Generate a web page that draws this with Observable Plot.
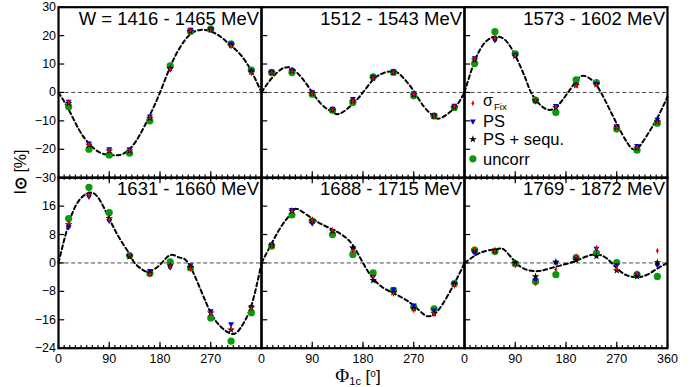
<!DOCTYPE html>
<html>
<head>
<meta charset="utf-8">
<script src="https://cdn.jsdelivr.net/npm/d3@7"></script>
<script src="https://cdn.jsdelivr.net/npm/@observablehq/plot@0.6"></script>
<style>
  html, body { margin: 0; padding: 0; background: white; }
  #chart { position: relative; width: 700px; height: 387px; font-family: "Liberation Sans", Arial, sans-serif; overflow: hidden; }
  #chart svg { position: absolute; left: 0; overflow: visible; background: transparent; }
  .ylab { position: absolute; left: 20px; top: 172px; transform: translate(-50%, -50%) rotate(-90deg); font-size: 16px; white-space: nowrap; color: black; }
  .xlab { position: absolute; left: 358px; top: 366px; transform: translateX(-50%); font-size: 17px; white-space: nowrap; line-height: 1; color: black; }
  .xlab .phi { font-family: "Liberation Serif", "DejaVu Serif", serif; font-size: 19px; }
  .xlab sub { font-size: 11px; vertical-align: -3px; line-height: 0; }
  .xlab sup { font-size: 10px; vertical-align: 5px; line-height: 0; }
</style>
</head>
<body>
<div id="chart"></div>
<script>
// ---------- data ----------
const phi = [18, 54, 90, 126, 162, 198, 234, 270, 306, 342];
const bins = ["W = 1416 - 1465 MeV", "1512 - 1543 MeV", "1573 - 1602 MeV",
              "1631 - 1660 MeV", "1688 - 1715 MeV", "1769 - 1872 MeV"];

// sigma_Fix (red)
const sigmaFix = [
  [-3.5, -18.2, -20.3, -20.3, -8.8, 8.2, 21.8, 22.0, 16.2, 6.7],
  [7.0, 7.5, -0.3, -6.0, -2.9, 5.0, 7.1, -0.6, -8.2, -5.0],
  [11.8, 19.1, 13.0, -2.7, -5.1, 2.4, 2.6, -12.3, -19.4, -10.6],
  [11.1, 19.1, 12.2, 2.2, -3.2, -1.1, -1.6, -14.3, -18.5, -12.9],
  [5.0, 14.7, 12.0, 9.2, 3.3, -3.8, -8.7, -13.4, -14.5, -6.5],
  [3.9, 3.3, -0.7, -5.8, -1.8, 1.9, 4.3, -1.6, -2.8, 3.4]
];
// PS (blue)
const ps = [
  [-3.3, -18.0, -20.0, -20.0, -8.5, 8.0, 22.0, 22.2, 17.0, 7.6],
  [7.3, 7.8, 0.0, -5.8, -2.3, 5.3, 7.4, -0.3, -8.0, -4.7],
  [12.0, 18.3, 13.2, -3.2, -4.8, 2.7, 2.9, -11.9, -18.9, -9.6],
  [10.0, 18.6, 11.8, 2.0, -2.3, -1.3, -0.7, -13.6, -17.3, -12.4],
  [5.2, 14.9, 11.1, 9.0, 4.0, -4.0, -7.5, -12.0, -13.4, -5.8],
  [2.8, 3.3, -0.2, -4.9, 0.0, 1.2, 4.0, -0.7, -3.3, -0.7]
];
// PS + sequ. (black)
const psSequ = [
  [-3.8, -18.5, -20.5, -20.5, -9.0, 8.5, 21.5, 22.0, 16.6, 7.2],
  [7.0, 7.6, -0.3, -6.2, -3.0, 5.0, 7.0, -0.8, -8.3, -5.2],
  [11.5, 19.0, 12.8, -2.8, -5.3, 2.5, 2.8, -12.2, -19.5, -10.3],
  [10.8, 19.3, 12.5, 1.8, -2.8, -0.8, -1.2, -14.0, -18.8, -12.6],
  [5.0, 14.6, 12.0, 9.0, 4.3, -4.9, -8.3, -12.8, -14.2, -6.0],
  [3.5, 3.5, 0.0, -3.8, 0.3, 0.8, 1.9, -2.1, -3.8, 0.1]
];
// uncorr (green)
const uncorr = [
  [-5.0, -20.0, -22.0, -21.4, -10.0, 9.4, 21.5, 22.4, 17.1, 7.9],
  [7.0, 7.0, -0.6, -6.3, -3.5, 5.5, 7.1, -1.2, -8.3, -5.3],
  [10.2, 21.4, 13.6, -2.7, -7.1, 4.4, 3.5, -12.9, -20.3, -10.8],
  [12.5, 21.3, 14.2, 2.1, -3.0, 0.3, -1.4, -15.5, -22.0, -14.0],
  [4.7, 13.5, 11.8, 8.0, 2.4, -2.8, -7.7, -12.4, -12.9, -5.8],
  [3.6, 3.2, -0.2, -5.2, -3.3, 1.5, 2.8, 0.1, -3.3, -3.8]
];

// fit curves
const curvePhi = [
  [0, 18, 36, 54, 72, 90, 108, 126, 144, 162, 180, 198, 216, 234, 252, 270, 288, 306, 324, 342, 360],
  [0, 18, 36, 45, 54, 72, 90, 108, 126, 140, 162, 180, 198, 216, 236, 252, 270, 288, 306, 318, 342, 360],
  [0, 18, 36, 54, 72, 90, 108, 118, 135, 157, 180, 198, 210, 225, 242, 270, 288, 304, 324, 342, 360],
  [0, 18, 36, 56, 72, 90, 108, 126, 135, 150, 162, 180, 198, 215, 230, 252, 270, 288, 309, 324, 342, 360],
  [0, 18, 36, 54, 65, 90, 108, 126, 144, 162, 180, 198, 216, 234, 252, 270, 288, 298, 315, 342, 360],
  [0, 18, 36, 60, 72, 90, 108, 130, 150, 180, 198, 216, 234, 252, 270, 288, 307, 324, 342, 360]
];
const curveVal = [
  [0, -6, -13, -18, -21, -22, -22, -20, -15, -8, 0, 9, 16, 20.5, 22, 21.5, 19.5, 16.5, 13, 7.5, 0],
  [0, 5, 8.3, 8.8, 8.5, 5, 0, -4.5, -7, -7.4, -4, 0, 4.5, 6.8, 7.4, 5, 0.5, -5, -8.5, -9, -5.5, 0],
  [0, 11, 17.5, 19.6, 18.5, 13, 5, 0, -4.5, -5.9, -1, 4, 5.9, 4.5, 0, -11, -17.5, -20, -15, -9, -1.5],
  [0, 11, 17.5, 19.8, 18, 12.5, 7, 2.5, 0, -2, -2.3, -0.5, 2.2, 1.5, 0, -7.5, -14, -18, -20, -18, -12, 0],
  [0, 5.5, 10.5, 14.3, 15.1, 12.5, 10.8, 9.4, 7.8, 5, 0, -4.4, -7, -8.5, -10, -12, -14.5, -15, -13, -5.8, 0],
  [0, 2, 3.3, 4, 3.5, 0.3, -1.8, -2.3, -1.6, -0.3, 0.6, 1.8, 2.4, 1.3, -1.5, -3.5, -4, -3.3, -1.6, 0]
];

const seriesNames = ["σFix", "PS", "PS + sequ.", "uncorr"];
const xMajor = [0, 90, 180, 270, 360];
const xMinor = d3.range(0, 361, 10);
const xTickLabels = [0, 90, 180, 270];
const yTicksTop = [-30, -20, -10, 0, 10, 20, 30];
const yTicksBottom = [-24, -16, -8, 0, 8, 16];

(function () {
// ---------- styles ----------
const FONT = "Liberation Sans, Arial, Helvetica, sans-serif";
const RED = "#ee0000", BLUE = "#0000ee", GREEN = "#0a990a";
const triDown = {
  draw(ctx, size) {
    const r = Math.sqrt(size / Math.PI);
    ctx.moveTo(-r * 1.15, -r * 0.8);
    ctx.lineTo(r * 1.15, -r * 0.8);
    ctx.lineTo(0, r * 1.2);
    ctx.closePath();
  }
};
const diamondTall = {
  draw(ctx, size) {
    const r = Math.sqrt(size / Math.PI);
    ctx.moveTo(0, -r * 1.9);
    ctx.lineTo(r * 0.85, 0);
    ctx.lineTo(0, r * 1.9);
    ctx.lineTo(-r * 0.85, 0);
    ctx.closePath();
  }
};

const L = 57.3, R = 666.7;

function rowPlot(row, opts) {
  const panelIdx = [0, 1, 2].map(k => row * 3 + k);
  const rowBins = panelIdx.map(p => bins[p]);
  const pts = [];
  const curve = [];
  for (const p of panelIdx) {
    phi.forEach((x, i) => {
      pts.push({bin: bins[p], phi: x, s: "uncorr", v: uncorr[p][i]});
      pts.push({bin: bins[p], phi: x, s: "PS", v: ps[p][i]});
      pts.push({bin: bins[p], phi: x, s: "PS + sequ.", v: psSequ[p][i]});
      pts.push({bin: bins[p], phi: x, s: "σFix", v: sigmaFix[p][i]});
    });
    curvePhi[p].forEach((x, i) => curve.push({bin: bins[p], phi: x, v: curveVal[p][i]}));
  }
  const [y0, y1] = opts.yDomain;
  const innerH = opts.height - opts.marginTop - opts.marginBottom;
  const pxPerUnit = innerH / (y1 - y0);
  const majLen = 6 / pxPerUnit, minLen = 2.6 / pxPerUnit;
  const yTickLen = 11; // degrees (~6px)

  const marks = [
    Plot.ruleY([0], {stroke: "#444", strokeWidth: 1, strokeDasharray: "4,2.6"}),
    Plot.line(curve, {x: "phi", y: "v", fx: "bin", curve: "natural", stroke: "black", strokeWidth: 2, strokeDasharray: "4,3"}),
    Plot.dot(pts.filter(d => d.s === "uncorr"), {x: "phi", y: "v", fx: "bin", r: 3.6, fill: GREEN, stroke: "none"}),
    Plot.dot(pts.filter(d => d.s === "PS"), {x: "phi", y: "v", fx: "bin", r: 2.6, symbol: triDown, fill: BLUE, stroke: "none"}),
    Plot.dot(pts.filter(d => d.s === "PS + sequ."), {x: "phi", y: "v", fx: "bin", r: 2.4, symbol: "star", fill: "black", stroke: "none"}),
    Plot.dot(pts.filter(d => d.s === "σFix"), {x: "phi", y: "v", fx: "bin", r: 1.6, symbol: diamondTall, fill: RED, stroke: "none"}),
    Plot.ruleY(opts.yTicks, {y: d => d, x1: 0, x2: yTickLen, stroke: "black", strokeWidth: 1.2}),
    Plot.ruleX(xMajor, {x: d => d, y1: y0, y2: y0 + majLen, stroke: "black", strokeWidth: 1.2}),
    Plot.ruleX(xMinor, {x: d => d, y1: y0, y2: y0 + minLen, stroke: "black", strokeWidth: 1.2}),
    Plot.frame({stroke: "black", strokeWidth: 2.2}),
    Plot.text(rowBins.map(b => ({bin: b})), {fx: "bin", text: "bin", frameAnchor: "top-right", textAnchor: "end", lineAnchor: "top", dx: -2.5, dy: 4.3, fontSize: 18.5, fill: "black"}),
    Plot.axisY(opts.yTicks, {tickSize: 0, tickPadding: 2.5, fontSize: 12.5, label: null, fill: "black"})
  ];
  if (opts.topTicks) {
    marks.push(Plot.ruleX(xMajor, {x: d => d, y1: y1, y2: y1 - majLen, stroke: "black", strokeWidth: 1.2}));
    marks.push(Plot.ruleX(xMinor, {x: d => d, y1: y1, y2: y1 - minLen, stroke: "black", strokeWidth: 1.2}));
  }
  if (opts.xLabels) {
    marks.push(Plot.axisX(xTickLabels, {tickSize: 0, tickPadding: 6, fontSize: 12.5, label: null, fill: "black"}));
    marks.push(Plot.text([{bin: rowBins[2], x: 360}], {x: "x", fx: "bin", text: d => String(d.x), frameAnchor: "bottom", lineAnchor: "top", dy: 6, fontSize: 12.5, fill: "black"}));
  }
  if (opts.legend) {
    const lb = [{bin: rowBins[2]}];
    const rows = [
      {dy: 96, s: "σFix"}, {dy: 114.5, s: "PS"}, {dy: 132, s: "PS + sequ."}, {dy: 151.6, s: "uncorr"}
    ];
    const sym = {
      "σFix": {r: 1.6, symbol: diamondTall, fill: RED},
      "PS": {r: 2.6, symbol: triDown, fill: BLUE},
      "PS + sequ.": {r: 2.4, symbol: "star", fill: "black"},
      "uncorr": {r: 3.6, symbol: "circle", fill: GREEN}
    };
    for (const e of rows) {
      marks.push(Plot.dot(lb, {fx: "bin", frameAnchor: "top-left", dx: 8.4, dy: e.dy, stroke: "none", ...sym[e.s]}));
      if (e.s === "σFix") {
        marks.push(Plot.text(lb, {fx: "bin", text: () => "σ", frameAnchor: "top-left", textAnchor: "start", lineAnchor: "middle", dx: 18.5, dy: e.dy - 2.5, fontSize: 16, fill: "black"}));
        marks.push(Plot.text(lb, {fx: "bin", text: () => "Fix", frameAnchor: "top-left", textAnchor: "start", lineAnchor: "middle", dx: 29.5, dy: e.dy + 3.5, fontSize: 9.5, fill: "black"}));
      } else {
        marks.push(Plot.text(lb, {fx: "bin", text: () => e.s, frameAnchor: "top-left", textAnchor: "start", lineAnchor: "middle", dx: 18.5, dy: e.dy + 0.5, fontSize: 16.5, fill: "black"}));
      }
    }
  }
  return Plot.plot({
    width: 700,
    height: opts.height,
    marginTop: opts.marginTop,
    marginBottom: opts.marginBottom,
    marginLeft: L,
    marginRight: 700 - R,
    style: {fontFamily: FONT, background: "transparent", overflow: "visible", color: "black"},
    x: {domain: [0, 360], axis: opts.xLabels ? undefined : null},
    y: {domain: opts.yDomain},
    fx: {domain: rowBins, padding: 0, axis: null},
    marks
  });
}

const chart = document.getElementById("chart");
const topRow = rowPlot(0, {yDomain: [-30, 30], yTicks: yTicksTop, height: 177.2, marginTop: 6.7, marginBottom: 0, legend: true});
topRow.style.top = "0px";
const bottomRow = rowPlot(1, {yDomain: [-24, 24], yTicks: yTicksBottom, height: 217, marginTop: 7.2, marginBottom: 39.3, topTicks: true, xLabels: true});
bottomRow.style.top = "170px";
chart.appendChild(topRow);
chart.appendChild(bottomRow);

const ylab = document.createElement("div");
ylab.className = "ylab";
ylab.innerHTML = "I<span style=\"font-weight:bold\">⊙</span> [%]";
chart.appendChild(ylab);

const xlab = document.createElement("div");
xlab.className = "xlab";
xlab.innerHTML = "<span class=\"phi\">Φ</span><sub>1c</sub> [<sup>o</sup>]";
chart.appendChild(xlab);
})();
</script>
</body>
</html>
